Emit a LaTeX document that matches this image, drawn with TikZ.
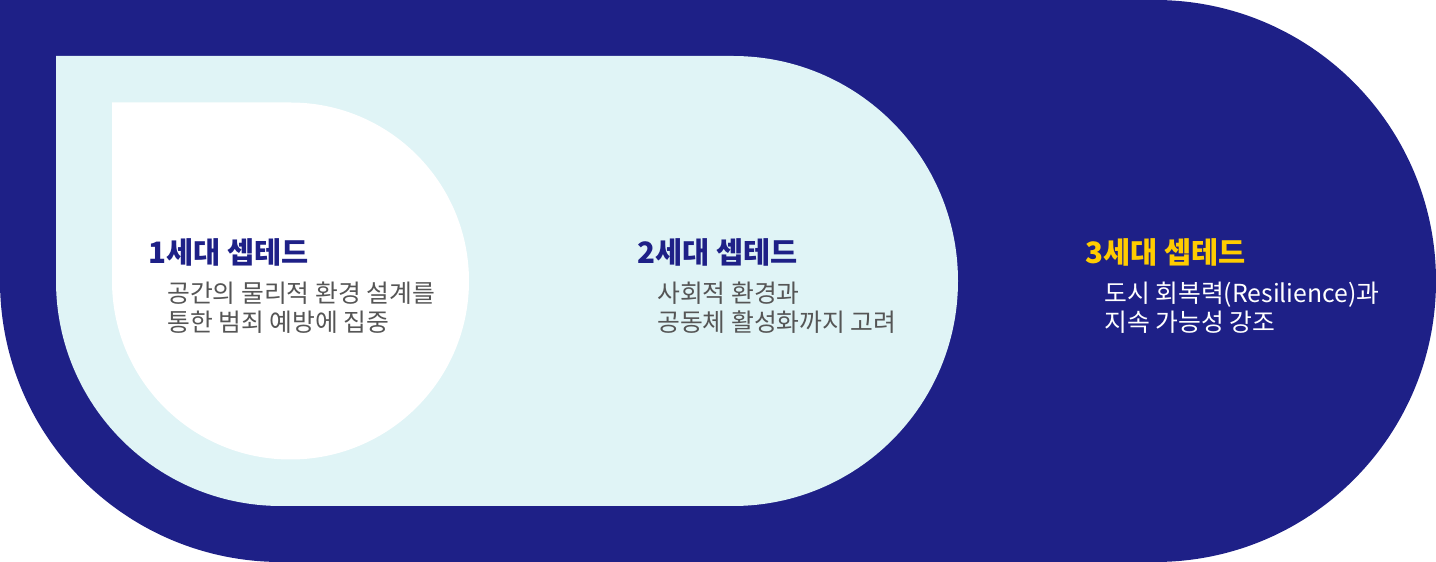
\documentclass[tikz,border=0pt]{standalone}
\usepackage{fontspec}
\newfontfamily\kr{Noto Sans CJK KR}
\definecolor{navy}{HTML}{1E2087}
\definecolor{lightcyan}{HTML}{E0F4F6}
\definecolor{gold}{HTML}{FFCC00}
\definecolor{greytext}{HTML}{555555}
\tikzset{
  ttl/.style={anchor=base west, inner sep=0pt, font=\kr\bfseries\fontsize{29.5}{34}\selectfont},
  bdy/.style={anchor=base west, inner sep=0pt, font=\kr\fontsize{24.8}{29}\selectfont},
}
\begin{document}
\begin{tikzpicture}[x=1pt,y=1pt]
\useasboundingbox (0,0) rectangle (1436,562);
% outer navy
\fill[navy] (0,562) -- (1155,562) arc (90:-90:281) -- (281,0) arc (270:180:281) -- cycle;
% light cyan
\fill[lightcyan] (56,506) -- (733,506) arc (90:-90:225) -- (281,56) arc (270:180:225) -- cycle;
% white
\fill[white] (112,459.5) -- (290.5,459.5) arc (90:-180:178.5) -- cycle;
% texts
\node[ttl, text=navy] (t1) at (148,298) {1세대 셉테드};
\node[bdy, text=greytext] (b1a) at (167,259) {공간의 물리적 환경 설계를};
\node[bdy, text=greytext] (b1b) at (167,230) {통한 범죄 예방에 집중};
\node[ttl, text=navy] (t2) at (637,298) {2세대 셉테드};
\node[bdy, text=greytext] (b2a) at (657,259) {사회적 환경과};
\node[bdy, text=greytext] (b2b) at (657,230) {공동체 활성화까지 고려};
\node[ttl, text=gold] (t3) at (1085,298) {3세대 셉테드};
\node[bdy, text=white] (b3a) at (1104,259) {도시 회복력(Resilience)과};
\node[bdy, text=white] (b3b) at (1104,230) {지속 가능성 강조};
\end{tikzpicture}
\end{document}
